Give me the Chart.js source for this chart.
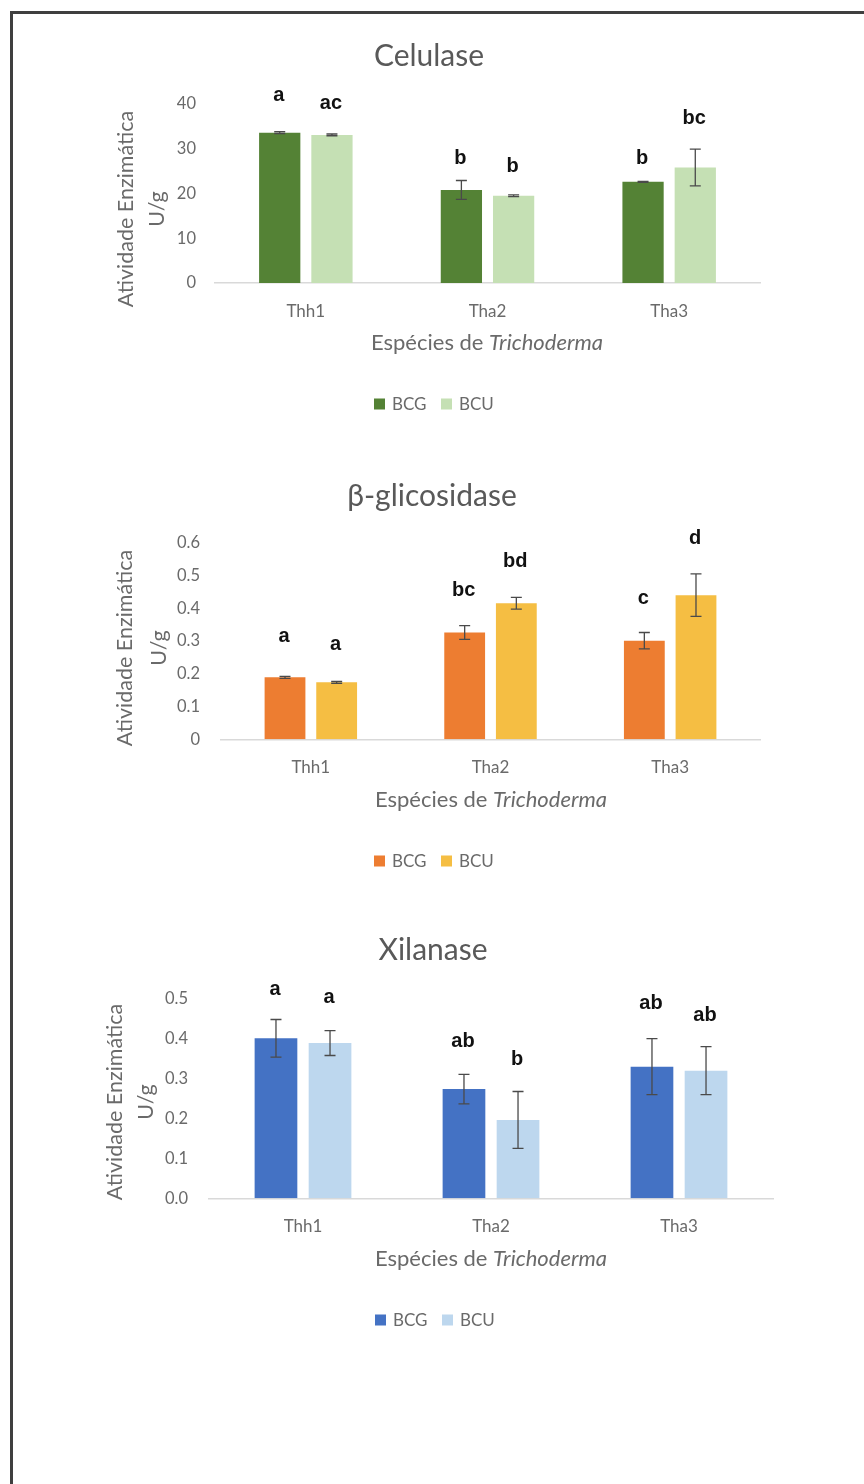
<!DOCTYPE html>
<html><head><meta charset="utf-8">
<script src="https://cdn.jsdelivr.net/npm/chart.js@4.4.1/dist/chart.umd.min.js"></script>
<style>
html,body{margin:0;padding:0;background:#fff;width:864px;height:1484px;overflow:hidden;position:relative}
#frame{position:absolute;left:10px;top:11px;width:900px;height:1500px;border-top:3px solid #3f3f3f;border-left:3px solid #3f3f3f;box-sizing:border-box}
canvas{position:absolute;left:0}
</style></head><body>
<div id="frame"></div>
<canvas id="c1" width="864" height="430" style="top:20px"></canvas>
<canvas id="c2" width="864" height="440" style="top:460px"></canvas>
<canvas id="c3" width="864" height="440" style="top:910px"></canvas>
<script>
// ---------- DATA ----------
const categories = ['Thh1', 'Tha2', 'Tha3'];
const seriesNames = ['BCG', 'BCU'];

const celulaseBCG = [33.6, 20.8, 22.6];
const celulaseBCU = [33.1, 19.5, 25.8];
const celulaseErrBCG = [0.2, 2.1, 0.1];
const celulaseErrBCU = [0.2, 0.2, 4.1];
const celulaseLettersBCG = ['a', 'b', 'b'];
const celulaseLettersBCU = ['ac', 'b', 'bc'];
const celulaseLetterAtBCG = [42.0, 27.9, 27.9];
const celulaseLetterAtBCU = [40.2, 26.0, 36.8];
const celulaseTickLabels = ['0', '10', '20', '30', '40'];

const glicBCG = [0.189, 0.326, 0.301];
const glicBCU = [0.174, 0.415, 0.440];
const glicErrBCG = [0.003, 0.021, 0.025];
const glicErrBCU = [0.003, 0.018, 0.065];
const glicLettersBCG = ['a', 'bc', 'c'];
const glicLettersBCU = ['a', 'bd', 'd'];
const glicLetterAtBCG = [0.313, 0.453, 0.430];
const glicLetterAtBCU = [0.288, 0.542, 0.613];
const glicTickLabels = ['0', '0.1', '0.2', '0.3', '0.4', '0.5', '0.6'];

const xilBCG = [0.400, 0.273, 0.329];
const xilBCU = [0.388, 0.196, 0.319];
const xilErrBCG = [0.047, 0.037, 0.070];
const xilErrBCU = [0.031, 0.071, 0.060];
const xilLettersBCG = ['a', 'ab', 'ab'];
const xilLettersBCU = ['a', 'b', 'ab'];
const xilLetterAtBCG = [0.521, 0.392, 0.488];
const xilLetterAtBCU = [0.503, 0.346, 0.458];
const xilTickLabels = ['0.0', '0.1', '0.2', '0.3', '0.4', '0.5'];

const yTitleLines = ['Atividade Enzimática', 'U/g'];
const xTitleParts = ['Espécies de ', 'Trichoderma'];

// ---------- STYLE / LAYOUT ----------
const FONT = 'Lato, "Open Sans", sans-serif';
const GRAY = '#6a6a6a';
const TICK_LEN = 8; // Chart.js default tick length (still offsets labels)

function makeChart(c) {
  const T = c.top, H = c.height;
  const annot = {
    id: 'annot',
    afterDatasetsDraw(chart) {
      const ctx = chart.ctx, ys = chart.scales.y;
      ctx.save();
      chart.data.datasets.forEach((ds, di) => {
        const meta = chart.getDatasetMeta(di);
        meta.data.forEach((bar, i) => {
          const v = ds.data[i], e = c.errs[di][i];
          const yt = ys.getPixelForValue(v + e), yb = ys.getPixelForValue(v - e);
          const x = bar.x;
          ctx.strokeStyle = '#4a4a4a'; ctx.lineWidth = 1.3;
          ctx.beginPath();
          ctx.moveTo(x, yt); ctx.lineTo(x, yb);
          ctx.moveTo(x - 5.5, yt); ctx.lineTo(x + 5.5, yt);
          ctx.moveTo(x - 5.5, yb); ctx.lineTo(x + 5.5, yb);
          ctx.stroke();
          ctx.fillStyle = '#111';
          ctx.font = 'bold 20px "Liberation Sans", Arial, sans-serif';
          ctx.textAlign = 'center'; ctx.textBaseline = 'middle';
          ctx.fillText(c.letters[di][i], x - 1, ys.getPixelForValue(c.letterAt[di][i]));
        });
      });
      ctx.restore();
    },
    afterDraw(chart) {
      const ctx = chart.ctx;
      ctx.save();
      // title
      ctx.fillStyle = '#595959';
      ctx.font = '30px ' + FONT;
      ctx.textAlign = 'center'; ctx.textBaseline = 'middle';
      ctx.fillText(c.title, c.titleX, c.titleY - T);
      // y title
      ctx.font = '21.5px ' + FONT;
      ctx.fillStyle = GRAY;
      c.yTitleX.forEach((xx, k) => {
        ctx.save();
        ctx.translate(xx, c.yTitleY - T);
        ctx.rotate(-Math.PI / 2);
        ctx.textAlign = 'center'; ctx.textBaseline = 'middle';
        ctx.fillText(yTitleLines[k], 0, 0);
        ctx.restore();
      });
      // x title (mixed style)
      const fN = '22px ' + FONT, fI = 'italic 22px ' + FONT;
      ctx.font = fN; const w1 = ctx.measureText(xTitleParts[0]).width;
      ctx.font = fI; const w2 = ctx.measureText(xTitleParts[1]).width;
      let sx = c.xTitleX - (w1 + w2) / 2;
      ctx.textAlign = 'left'; ctx.textBaseline = 'middle';
      ctx.font = fN; ctx.fillText(xTitleParts[0], sx, c.xTitleY - T);
      ctx.font = fI; ctx.fillText(xTitleParts[1], sx + w1, c.xTitleY - T);
      // legend
      ctx.font = '17px ' + FONT;
      chart.data.datasets.forEach((ds, di) => {
        const lx = c.legendX + di * 67, ly = c.legendY - T;
        ctx.fillStyle = ds.backgroundColor;
        ctx.fillRect(lx, ly - 5.5, 11, 11);
        ctx.fillStyle = GRAY;
        ctx.fillText(ds.label, lx + 18, ly + 1);
      });
      ctx.restore();
    }
  };
  return new Chart(document.getElementById(c.id), {
    type: 'bar',
    data: {
      labels: categories,
      datasets: [
        { label: seriesNames[0], data: c.bcg, backgroundColor: c.colors[0], barPercentage: 0.79, categoryPercentage: 0.575 },
        { label: seriesNames[1], data: c.bcu, backgroundColor: c.colors[1], barPercentage: 0.79, categoryPercentage: 0.575 }
      ]
    },
    options: {
      responsive: false, animation: false, devicePixelRatio: 1,
      layout: { padding: { left: 0, right: 864 - c.right, top: c.plotTop - T, bottom: 0 } },
      plugins: { legend: { display: false }, title: { display: false }, tooltip: { enabled: false } },
      scales: {
        x: {
          grid: { display: false },
          border: { display: true, color: '#D9D9D9', width: 1.5 },
          ticks: { color: GRAY, font: { family: FONT, size: 17 }, padding: c.xTickPad },
          afterFit(s) { s.height = H - (c.plotBottom - T); }
        },
        y: {
          min: 0, max: c.max,
          grid: { display: false },
          border: { display: false },
          ticks: { stepSize: c.step, color: GRAY, font: { family: FONT, size: 16.5 }, padding: c.left - c.tickRight - TICK_LEN,
                   callback: (v, i) => c.tickLabels[i] },
          afterFit(s) { s.width = c.left; }
        }
      }
    },
    plugins: [annot]
  });
}

makeChart({
  id: 'c1', top: 20, height: 430,
  left: 215, right: 760, plotTop: 104, plotBottom: 283, tickRight: 196, xTickPad: 10,
  max: 40, step: 10, tickLabels: celulaseTickLabels,
  bcg: celulaseBCG, bcu: celulaseBCU,
  errs: [celulaseErrBCG, celulaseErrBCU],
  letters: [celulaseLettersBCG, celulaseLettersBCU],
  letterAt: [celulaseLetterAtBCG, celulaseLetterAtBCU],
  colors: ['#548235', '#C5E0B4'],
  title: 'Celulase', titleX: 429, titleY: 56,
  yTitleX: [126, 157], yTitleY: 209,
  xTitleX: 487, xTitleY: 343,
  legendX: 374, legendY: 404
});

makeChart({
  id: 'c2', top: 460, height: 440,
  left: 221, right: 760, plotTop: 542.7, plotBottom: 739.3, tickRight: 200, xTickPad: 10,
  max: 0.6, step: 0.1, tickLabels: glicTickLabels,
  bcg: glicBCG, bcu: glicBCU,
  errs: [glicErrBCG, glicErrBCU],
  letters: [glicLettersBCG, glicLettersBCU],
  letterAt: [glicLetterAtBCG, glicLetterAtBCU],
  colors: ['#ED7D31', '#F5BE43'],
  title: 'β-glicosidase', titleX: 432, titleY: 496,
  yTitleX: [125, 159], yTitleY: 648,
  xTitleX: 491, xTitleY: 800,
  legendX: 374, legendY: 861
});

makeChart({
  id: 'c3', top: 910, height: 440,
  left: 209, right: 773, plotTop: 998.3, plotBottom: 1198.3, tickRight: 188, xTickPad: 10,
  max: 0.5, step: 0.1, tickLabels: xilTickLabels,
  bcg: xilBCG, bcu: xilBCU,
  errs: [xilErrBCG, xilErrBCU],
  letters: [xilLettersBCG, xilLettersBCU],
  letterAt: [xilLetterAtBCG, xilLetterAtBCU],
  colors: ['#4472C4', '#BDD7EE'],
  title: 'Xilanase', titleX: 433, titleY: 950,
  yTitleX: [115, 146], yTitleY: 1102,
  xTitleX: 491, xTitleY: 1259,
  legendX: 375, legendY: 1320
});
</script>
</body></html>
